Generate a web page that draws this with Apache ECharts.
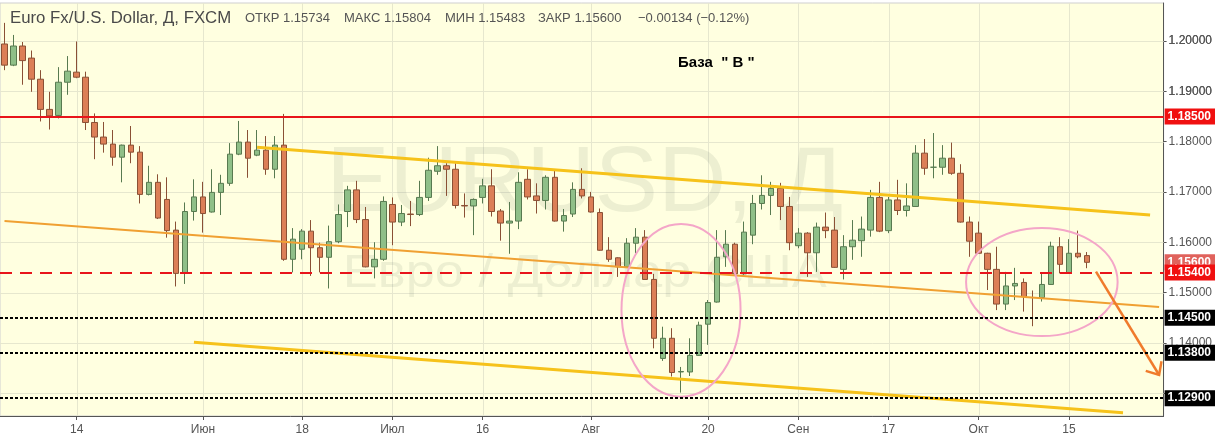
<!DOCTYPE html>
<html>
<head>
<meta charset="utf-8">
<script src="https://cdn.jsdelivr.net/npm/echarts@6/dist/echarts.min.js"></script>
<style>html,body{margin:0;padding:0;background:#fff}#c{width:1215px;height:438px}</style>
</head>
<body>
<div id="c"></div>
<script>
// ---------- data ----------
const firstDate = '2018-05-02';
const futureSlots = 8; // empty trading days to the right of the last candle

const opens = [1.1994,1.1952,1.1990,1.1966,1.1924,1.1864,1.1852,1.1918,1.1938,1.1928,
1.1838,1.1809,1.1795,1.1769,1.1793,1.1779,1.1695,1.1719,1.1685,1.1624,
1.1539,1.1661,1.1690,1.1660,1.1699,1.1717,1.1775,1.1799,1.1773,1.1783,
1.1745,1.1793,1.1566,1.1586,1.1622,1.1589,1.1570,1.1601,1.1661,1.1704,
1.1645,1.1551,1.1566,1.1675,1.1640,1.1656,1.1655,1.1689,1.1741,1.1752,
1.1745,1.1673,1.1672,1.1689,1.1712,1.1662,1.1638,1.1642,1.1725,1.1692,
1.1683,1.1729,1.1642,1.1656,1.1705,1.1690,1.1659,1.1584,1.1569,1.1551,
1.1598,1.1610,1.1526,1.1369,1.1409,1.1342,1.1342,1.1375,1.1437,1.1481,
1.1571,1.1596,1.1537,1.1614,1.1677,1.1693,1.1707,1.1671,1.1593,1.1618,
1.1579,1.1630,1.1624,1.1546,1.1591,1.1603,1.1624,1.1689,1.1623,1.1684,
1.1663,1.1671,1.1777,1.1749,1.1749,1.1767,1.1737,1.1640,1.1618,1.1578,
1.1546,1.1477,1.1513,1.1520,1.1490,1.1490,1.1516,1.1591,1.1538,1.1578,
1.15734];
const closes = [1.1952,1.1990,1.1961,1.1924,1.1864,1.1851,1.1918,1.1940,1.1928,1.1838,
1.1809,1.1795,1.1769,1.1793,1.1779,1.1695,1.1719,1.1648,1.1623,1.1538,
1.1661,1.1690,1.1657,1.1699,1.1717,1.1775,1.1799,1.1767,1.1783,1.1745,
1.1793,1.1566,1.1606,1.1622,1.1589,1.1570,1.1601,1.1655,1.1704,1.1645,
1.1551,1.1566,1.1681,1.1640,1.1657,1.1655,1.1689,1.1743,1.1752,1.1745,
1.1673,1.1672,1.1685,1.1712,1.1661,1.1638,1.1642,1.1719,1.1690,1.1683,
1.1729,1.1642,1.1653,1.1705,1.1692,1.1660,1.1584,1.1566,1.1551,1.1598,
1.1610,1.1526,1.1409,1.1409,1.1341,1.1343,1.1375,1.1435,1.1480,1.1570,
1.1596,1.1537,1.1620,1.1677,1.1693,1.1707,1.1671,1.1599,1.1618,1.1579,
1.1630,1.1623,1.1550,1.1591,1.1604,1.1626,1.1689,1.1622,1.1684,1.1663,
1.1672,1.1777,1.1747,1.1749,1.1767,1.1737,1.1640,1.1602,1.1578,1.1546,
1.1477,1.1513,1.1518,1.1492,1.1490,1.1516,1.1592,1.1556,1.1578,1.1571,
1.15600];
const lows = [1.1942,1.1950,1.1913,1.1899,1.1840,1.1824,1.1846,1.1893,1.1926,1.1823,
1.1765,1.1778,1.1752,1.1719,1.1757,1.1677,1.1693,1.1646,1.1609,1.1512,
1.1517,1.1643,1.1619,1.1659,1.1654,1.1712,1.1773,1.1728,1.1771,1.1734,
1.1727,1.1563,1.1540,1.1566,1.1533,1.1540,1.1508,1.1598,1.1630,1.1638,
1.1550,1.1528,1.1563,1.1594,1.1632,1.1632,1.1652,1.1682,1.1734,1.1692,
1.1667,1.1649,1.1614,1.1677,1.1651,1.1603,1.1577,1.1626,1.1685,1.1657,
1.1665,1.1641,1.1621,1.1650,1.1687,1.1659,1.1583,1.1561,1.1531,1.1549,
1.1578,1.1526,1.1389,1.1364,1.1333,1.1301,1.1334,1.1374,1.1396,1.1480,
1.1551,1.1535,1.1535,1.1596,1.1665,1.1654,1.1644,1.1584,1.1588,1.1531,
1.1541,1.1608,1.1549,1.1526,1.1565,1.1571,1.1611,1.1620,1.1618,1.1654,
1.1651,1.1670,1.1734,1.1727,1.1734,1.1734,1.1639,1.1571,1.1577,1.1505,
1.1465,1.1465,1.1485,1.1462,1.1433,1.1482,1.1515,1.1538,1.1538,1.1568,
1.15483];
const highs = [1.2036,1.2012,1.1998,1.1981,1.1942,1.1899,1.1948,1.1970,1.1999,1.1939,
1.1856,1.1839,1.1823,1.1794,1.1831,1.1791,1.1752,1.1735,1.1729,1.1641,
1.1679,1.1725,1.1720,1.1745,1.1734,1.1797,1.1841,1.1823,1.1823,1.1811,
1.1811,1.1855,1.1628,1.1626,1.1644,1.1599,1.1633,1.1675,1.1712,1.1722,
1.1670,1.1600,1.1691,1.1689,1.1674,1.1682,1.1722,1.1768,1.1791,1.1757,
1.1757,1.1697,1.1687,1.1726,1.1745,1.1666,1.1680,1.1739,1.1745,1.1717,
1.1733,1.1742,1.1666,1.1719,1.1747,1.1700,1.1667,1.1610,1.1570,1.1608,
1.1628,1.1624,1.1537,1.1432,1.1429,1.1352,1.1409,1.1442,1.1485,1.1624,
1.1624,1.1599,1.1641,1.1694,1.1733,1.1720,1.1718,1.1690,1.1628,1.1620,
1.1639,1.1659,1.1650,1.1614,1.1644,1.1651,1.1704,1.1720,1.1690,1.1724,
1.1717,1.1793,1.1805,1.1817,1.1793,1.1798,1.1755,1.1651,1.1641,1.1579,
1.1591,1.1541,1.1549,1.1528,1.1504,1.1539,1.1601,1.1610,1.1606,1.1623,
1.15804];

const tickDates = ['2018-05-14','2018-06-01','2018-06-18','2018-07-02','2018-07-16','2018-08-01','2018-08-20','2018-09-03','2018-09-17','2018-10-01','2018-10-15'];
const tickTexts = ['14','Июн','18','Июл','16','Авг','20','Сен','17','Окт','15'];

const yMin = 1.12545, yMax = 1.20755;
const yTicks = [1.13, 1.14, 1.15, 1.16, 1.17, 1.18, 1.19, 1.20];
const yLabelTicks = [1.14, 1.15, 1.16, 1.17, 1.18, 1.19, 1.20]; // 1.13000 sits behind the 1.12900 tag

const resistanceLevel = 1.185;
const baseLevel = 1.154;
const supportLevels = [1.145, 1.138, 1.129];
const lastClose = 1.156;

const upperChannel = [['2018-06-11', 1.17886], ['2018-10-26', 1.16541]];
const lowerChannel = [['2018-05-31', 1.14010], ['2018-10-23', 1.12612]];
const midTrend = [['2018-05-02', 1.16421], ['2018-10-29', 1.14710]];
const ellipses = [['2018-08-15', 1.14646, 6.6, 0.01716], ['2018-10-10', 1.15209, 8.4, 0.01074]]; // center date, center price, half width (bars), half height (price)
const forecastArrow = [['2018-10-18', 1.15414], ['2018-10-29', 1.13360]];

const titleText = 'Euro Fx/U.S. Dollar, Д, FXCM';
const headerFields = ['ОТКР 1.15734', 'МАКС 1.15804', 'МИН 1.15483', 'ЗАКР 1.15600', '−0.00134 (−0.12%)'];
const noteText = 'База  " В "';
const watermark = ['EURUSD, Д', 'Евро / Доллар США'];

// ---------- build ----------
function tradingDays(start, n) {
  const out = [];
  const d = new Date(start + 'T00:00:00Z');
  while (out.length < n) {
    const w = d.getUTCDay();
    if (w !== 0 && w !== 6) out.push(d.toISOString().slice(0, 10));
    d.setUTCDate(d.getUTCDate() + 1);
  }
  return out;
}
const categories = tradingDays(firstDate, opens.length + futureSlots);
const idx = d => categories.indexOf(d);

const FONT = "'Liberation Sans', Arial, sans-serif";
const GRID_COLOR = '#e6e7ce';
const chart = echarts.init(document.getElementById('c'), null, {renderer: 'canvas', width: 1215, height: 438});

const lvlLabel = (bg) => ({
  show: true, position: 'end', distance: 1,
  formatter: p => Number(p.value).toFixed(5),
  color: '#fff', fontWeight: 'bold', fontSize: 12, fontFamily: FONT,
  backgroundColor: bg, padding: [2, 4, 2, 3], lineHeight: 12
});
const hdr = (x, t, font, fill) => ({type: 'text', x, y: 18, z: 100,
  style: {text: t, font, fill, verticalAlign: 'middle', textVerticalAlign: 'middle'}});
const yLabelStyle = {color: '#555', fontSize: 12, fontFamily: FONT, margin: 5, hideOverlap: false,
  formatter: v => Number(v).toFixed(5)};

const option = {
  animation: false,
  backgroundColor: '#ffffff',
  grid: {left: 0, right: 50, top: 3, bottom: 22, show: true, backgroundColor: '#ffffe0', borderColor: '#cfcfcf', borderWidth: 1},
  xAxis: {
    type: 'category', data: categories, boundaryGap: true,
    axisLine: {show: true, lineStyle: {color: '#555', width: 1}},
    axisTick: {show: true, alignWithLabel: true, length: 4, lineStyle: {color: '#555'},
      interval: (i, v) => tickDates.indexOf(v) >= 0},
    axisLabel: {interval: (i, v) => tickDates.indexOf(v) >= 0,
      formatter: v => tickTexts[tickDates.indexOf(v)] || '',
      color: '#555', fontSize: 12, fontFamily: FONT, margin: 8},
    splitLine: {show: false}
  },
  yAxis: [
    {
      type: 'value', position: 'right', min: yMin, max: yMax, splitNumber: 8, scale: true,
      axisLine: {show: true, lineStyle: {color: '#555', width: 1}},
      axisTick: {show: true, length: 3, lineStyle: {color: '#555'}, customValues: yTicks},
      axisLabel: Object.assign({customValues: yLabelTicks}, yLabelStyle),
      splitLine: {show: false}
    },
    { // second pass of the same price scale, only to make sure every tick label is drawn
      type: 'value', position: 'right', offset: 0, min: yMin, max: yMax, splitNumber: 8, scale: true,
      axisLine: {show: false}, axisTick: {show: false}, splitLine: {show: false},
      axisLabel: Object.assign({customValues: yLabelTicks.filter(v => v > 1.185)}, yLabelStyle)
    }
  ],
  graphic: [
    hdr(10, titleText, '16.8px ' + FONT, '#4a4a4a'),
    hdr(245, headerFields[0], '13px ' + FONT, '#555'),
    hdr(344, headerFields[1], '13px ' + FONT, '#555'),
    hdr(445, headerFields[2], '13px ' + FONT, '#555'),
    hdr(538, headerFields[3], '13px ' + FONT, '#555'),
    hdr(638, headerFields[4], '13px ' + FONT, '#555'),
    {type: 'text', x: 678, y: 63, z: 100, style: {text: noteText, font: 'bold 15px ' + FONT, fill: '#000', verticalAlign: 'middle', textVerticalAlign: 'middle'}}
  ],
  series: [
    { // grid lines + watermark
      type: 'custom', z: 1, silent: true, data: [[0, 1.16]],
      renderItem: (params, api) => {
        const cs = params.coordSys;
        const children = tickDates.map(d => {
          const x = Math.round(api.coord([idx(d), yMin])[0]) + 0.5;
          return {type: 'line', shape: {x1: x, y1: cs.y, x2: x, y2: cs.y + cs.height}, style: {stroke: GRID_COLOR, lineWidth: 1}};
        });
        yTicks.forEach(v => {
          const y = Math.round(api.coord([0, v])[1]) + 0.5;
          children.push({type: 'line', shape: {x1: cs.x, y1: y, x2: cs.x + cs.width, y2: y}, style: {stroke: GRID_COLOR, lineWidth: 1}});
        });
        const cx = cs.x + cs.width / 2 + 3;
        children.push({type: 'text', x: cx, y: 186, scaleX: 1.03,
          style: {text: watermark[0], font: '92px ' + FONT, fill: 'rgba(95,105,90,0.11)', align: 'center', verticalAlign: 'middle'}});
        children.push({type: 'text', x: cx, y: 274, scaleX: 1.14,
          style: {text: watermark[1], font: '46px ' + FONT, fill: 'rgba(95,105,90,0.11)', align: 'center', verticalAlign: 'middle'}});
        return {type: 'group', children};
      }
    },
    {
      type: 'candlestick', z: 3, barWidth: 6,
      data: opens.map((o, i) => [o, closes[i], lows[i], highs[i]]),
      itemStyle: {color: '#8fbf88', color0: '#dc7f57', borderColor: '#587a50', borderColor0: '#8a5035', borderWidth: 1},
      markLine: {
        silent: true, symbol: ['none', 'none'], animation: false, precision: 5,
        data: [
          {yAxis: lastClose, lineStyle: {color: 'rgba(0,0,0,0)', width: 1}, label: lvlLabel('#e0625c')},
          {yAxis: resistanceLevel, lineStyle: {color: '#e8141b', width: 2, type: 'solid'}, label: lvlLabel('#f01010')},
          {yAxis: baseLevel, lineStyle: {color: '#e8141b', width: 2, type: [12, 8]}, label: lvlLabel('#f01010')},
          ...supportLevels.map(p => ({yAxis: p, lineStyle: {color: '#000', width: 2, type: [3, 2]}, label: lvlLabel('#000')}))
        ]
      }
    },
    { // drawn annotations: channels, trend, ellipses, arrow
      type: 'custom', z: 4, silent: true, data: [[0, 1.16]],
      renderItem: (params, api) => {
        const pt = (d, p) => api.coord([idx(d), p]);
        const seg = (pair, stroke, w) => {
          const a = pt(pair[0][0], pair[0][1]), b = pt(pair[1][0], pair[1][1]);
          return {type: 'line', shape: {x1: a[0], y1: a[1], x2: b[0], y2: b[1]}, style: {stroke, lineWidth: w, lineCap: 'butt'}};
        };
        const children = [
          seg(midTrend, '#f0a032', 2),
          seg(upperChannel, '#f6c21a', 3),
          seg(lowerChannel, '#f6c21a', 3)
        ];
        const band = api.size([1, 0])[0];
        ellipses.forEach(e => {
          const c = pt(e[0], e[1]);
          const ry = Math.abs(api.coord([0, e[1] + e[3]])[1] - c[1]);
          children.push({type: 'ellipse', shape: {cx: c[0], cy: c[1], rx: e[2] * band, ry}, style: {fill: 'none', stroke: '#f4a6c8', lineWidth: 2}});
        });
        const a = pt(forecastArrow[0][0], forecastArrow[0][1]);
        const b = pt(forecastArrow[1][0], forecastArrow[1][1]);
        const ang = Math.atan2(b[1] - a[1], b[0] - a[0]);
        const L = 14, sp = 0.72;
        const h1 = [b[0] - L * Math.cos(ang - sp), b[1] - L * Math.sin(ang - sp)];
        const h2 = [b[0] - L * Math.cos(ang + sp), b[1] - L * Math.sin(ang + sp)];
        children.push({type: 'line', shape: {x1: a[0], y1: a[1], x2: b[0], y2: b[1]}, style: {stroke: '#f07b2c', lineWidth: 2.5}});
        children.push({type: 'polyline', shape: {points: [h1, b, h2]}, style: {stroke: '#f07b2c', lineWidth: 2.5, fill: 'none'}});
        return {type: 'group', children};
      }
    }
  ]
};
chart.setOption(option);
</script>
</body>
</html>
